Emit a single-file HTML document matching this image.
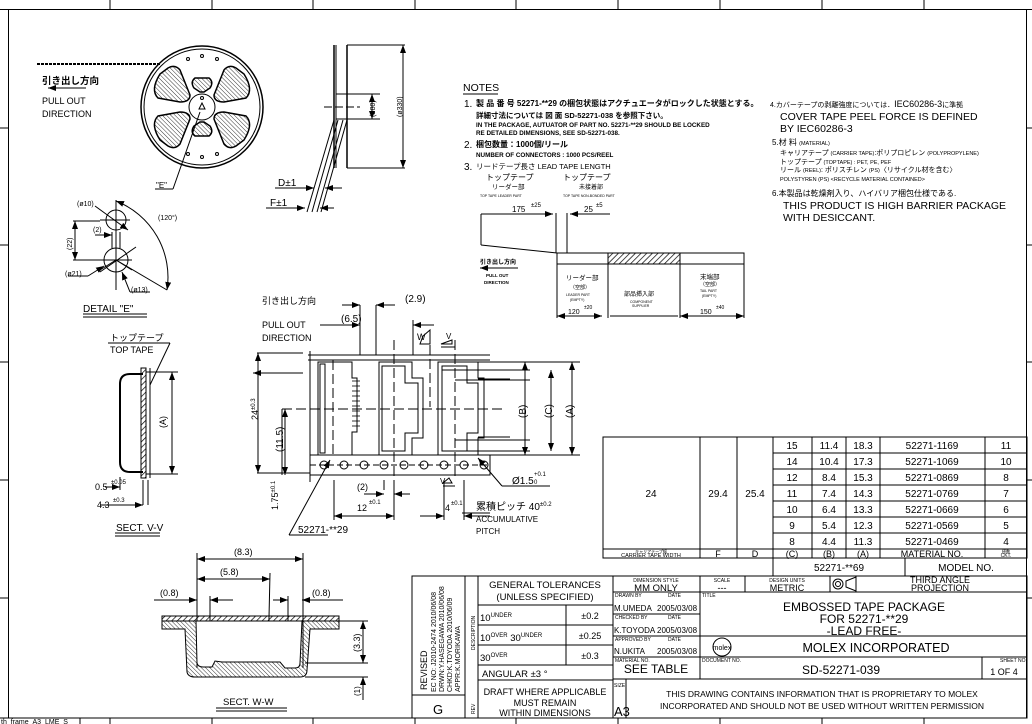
<!DOCTYPE html>
<html><head><meta charset="utf-8"><style>
html,body{margin:0;padding:0;background:#fff}
svg{display:block}
text{font-family:"Liberation Sans","Noto Sans CJK JP",sans-serif;fill:#000}
</style></head><body>
<svg width="1032" height="724" viewBox="0 0 1032 724" xmlns="http://www.w3.org/2000/svg">
<defs>
<pattern id="h" width="4" height="4" patternUnits="userSpaceOnUse" patternTransform="rotate(45)"><line x1="0" y1="0" x2="0" y2="4" stroke="#000" stroke-width="1.4"/></pattern>
<pattern id="h2" width="3" height="3" patternUnits="userSpaceOnUse" patternTransform="rotate(-45)"><line x1="0" y1="0" x2="0" y2="3" stroke="#000" stroke-width="0.8"/></pattern>
<marker id="a" markerWidth="8" markerHeight="6" refX="8" refY="3" orient="auto-start-reverse"><path d="M0,0L8,3L0,6z"/></marker>
</defs>
<g fill="none" stroke="#000" stroke-width="1">
<rect x="8.5" y="9.5" width="1018" height="708.5"/>
<line x1="0" y1="9.5" x2="1032" y2="9.5"/>
<line x1="110" y1="0" x2="110" y2="9"/><line x1="212" y1="0" x2="212" y2="9"/><line x1="313" y1="0" x2="313" y2="9"/><line x1="415" y1="0" x2="415" y2="9"/><line x1="516" y1="0" x2="516" y2="9"/><line x1="618" y1="0" x2="618" y2="9"/><line x1="720" y1="0" x2="720" y2="9"/><line x1="822" y1="0" x2="822" y2="9"/><line x1="924" y1="0" x2="924" y2="9"/>
<line x1="0" y1="128" x2="8" y2="128"/><line x1="0" y1="245" x2="8" y2="245"/><line x1="0" y1="362" x2="8" y2="362"/><line x1="0" y1="480" x2="8" y2="480"/><line x1="0" y1="598" x2="8" y2="598"/>
<line x1="1027" y1="128" x2="1032" y2="128"/><line x1="1027" y1="245" x2="1032" y2="245"/><line x1="1027" y1="362" x2="1032" y2="362"/><line x1="1027" y1="480" x2="1032" y2="480"/><line x1="1027" y1="598" x2="1032" y2="598"/>
<line x1="110" y1="718" x2="110" y2="724"/><line x1="212" y1="718" x2="212" y2="724"/><line x1="313" y1="718" x2="313" y2="724"/><line x1="415" y1="718" x2="415" y2="724"/><line x1="516" y1="718" x2="516" y2="724"/><line x1="618" y1="718" x2="618" y2="724"/><line x1="720" y1="718" x2="720" y2="724"/><line x1="822" y1="718" x2="822" y2="724"/><line x1="924" y1="718" x2="924" y2="724"/>

<!-- reel -->
<line x1="37" y1="64" x2="160" y2="64" stroke-dasharray="3 1" stroke-width="2"/>
<circle cx="202" cy="107" r="61" stroke-width="1.5"/>
<circle cx="202" cy="107" r="58"/>
<circle cx="202" cy="107" r="13"/>
<g fill="url(#h2)" stroke-width="1.5">
<path d="M158,98 Q150,90 160,74 L168,68 Q175,64 180,70 L190,95 Q190,102 180,102 Z"/>
<path d="M246,98 Q254,90 244,74 L236,68 Q229,64 224,70 L214,95 Q214,102 224,102 Z"/>
<path d="M158,116 Q150,124 160,140 L168,146 Q175,150 180,144 L190,119 Q190,112 180,112 Z"/>
<path d="M246,116 Q254,124 244,140 L236,146 Q229,150 224,144 L214,119 Q214,112 224,112 Z"/>
<path d="M195,78 L209,78 Q214,82 210,88 L204,92 L200,92 L194,88 Q190,82 195,78Z"/>
<path d="M195,136 L209,136 Q214,132 210,126 L204,122 L200,122 L194,126 Q190,132 195,136Z"/>
</g>
<circle cx="188" cy="59" r="1.5"/><circle cx="202" cy="56" r="1.5"/><circle cx="217" cy="59" r="1.5"/>
<circle cx="188" cy="154" r="1.5"/><circle cx="202" cy="157" r="1.5"/><circle cx="217" cy="154" r="1.5"/>
<circle cx="202" cy="98" r="1.5"/>
<path d="M199,109 L202,103 L205,109 Z"/>
<line x1="173" y1="189" x2="200" y2="112"/><line x1="155" y1="189" x2="173" y2="189"/>
<line x1="48" y1="88" x2="86" y2="88" marker-start="url(#a)"/>

<!-- reel side view -->
<line x1="334" y1="45" x2="334" y2="168" stroke-width="1.5"/><line x1="347" y1="45" x2="347" y2="168" stroke-width="1.5"/>
<line x1="336" y1="45" x2="336" y2="168"/>
<line x1="347" y1="45" x2="405" y2="45"/><line x1="347" y1="168" x2="405" y2="168"/>
<line x1="336" y1="94" x2="380" y2="94"/><line x1="336" y1="119" x2="380" y2="119"/>
<line x1="324" y1="107" x2="360" y2="107" stroke-dasharray="8 3"/>
<line x1="372" y1="94" x2="372" y2="119" marker-start="url(#a)" marker-end="url(#a)"/>
<line x1="403" y1="45" x2="403" y2="168" marker-start="url(#a)" marker-end="url(#a)"/>
<line x1="334" y1="120" x2="307" y2="212"/><line x1="338" y1="120" x2="312" y2="212"/>
<line x1="347" y1="120" x2="321" y2="212"/><line x1="343" y1="120" x2="317" y2="212"/>
<line x1="275" y1="188" x2="314" y2="188" marker-end="url(#a)"/><line x1="342" y1="188" x2="325" y2="188" marker-end="url(#a)"/><line x1="325" y1="188" x2="342" y2="188"/>
<line x1="266" y1="208" x2="305" y2="208" marker-end="url(#a)"/><line x1="334" y1="208" x2="320" y2="208" marker-end="url(#a)"/>

<!-- detail E -->
<circle cx="116" cy="220" r="10"/>
<circle cx="116" cy="260" r="12"/>
<line x1="116" y1="200" x2="116" y2="290"/>
<line x1="100" y1="220" x2="130" y2="220"/><line x1="90" y1="260" x2="132" y2="260"/>
<line x1="112" y1="232" x2="112" y2="248"/><line x1="120" y1="232" x2="120" y2="248"/>
<line x1="116" y1="260" x2="100" y2="270"/><line x1="116" y1="260" x2="132" y2="270"/>
<line x1="73" y1="221" x2="100" y2="221"/><line x1="73" y1="260" x2="100" y2="260"/>
<line x1="75" y1="221" x2="75" y2="260" marker-start="url(#a)" marker-end="url(#a)"/>
<path d="M116,201 A82,82 0 0 1 167,290" marker-start="url(#a)" marker-end="url(#a)"/>
<line x1="116" y1="260" x2="167" y2="290"/>
<line x1="95" y1="206" x2="128" y2="230" marker-end="url(#a)"/>
<line x1="95" y1="235" x2="112" y2="235" marker-end="url(#a)"/>
<line x1="136" y1="247" x2="100" y2="272"/>
<line x1="68" y1="276" x2="88" y2="276"/><line x1="88" y1="276" x2="104" y2="266" marker-end="url(#a)"/>
<line x1="130" y1="292" x2="150" y2="292"/><line x1="130" y1="292" x2="122" y2="272" marker-end="url(#a)"/>
<line x1="83" y1="314" x2="147" y2="314"/><line x1="83" y1="317" x2="147" y2="317"/>

<!-- top tape section V-V -->
<line x1="108" y1="343" x2="170" y2="343"/><line x1="170" y1="343" x2="150" y2="385"/>
<path d="M143,374 L130,374 Q120,374 120,384 L120,462 Q120,472 130,472 L143,472" stroke-width="2"/>
<path d="M146,372 L146,474 M150,368 L150,478 M146,372 L150,372 M146,474 L150,474"/>
<rect x="141" y="368" width="5" height="110" fill="url(#h)"/>
<line x1="150" y1="372" x2="178" y2="372"/><line x1="150" y1="474" x2="178" y2="474"/>
<line x1="172" y1="372" x2="172" y2="474" marker-start="url(#a)" marker-end="url(#a)"/>
<line x1="120" y1="477" x2="120" y2="490"/><line x1="148" y1="480" x2="148" y2="505"/><line x1="143" y1="480" x2="143" y2="505"/>
<line x1="105" y1="487" x2="120" y2="487" marker-end="url(#a)"/>
<line x1="100" y1="505" x2="143" y2="505" marker-end="url(#a)"/>
<line x1="115" y1="533" x2="160" y2="533"/><line x1="115" y1="536" x2="160" y2="536"/>

<!-- main tape view -->
<line x1="308" y1="355" x2="490" y2="355"/><line x1="308" y1="360" x2="490" y2="360"/>
<line x1="310" y1="351" x2="310" y2="482"/>
<line x1="257" y1="353" x2="303" y2="353"/><line x1="257" y1="473" x2="310" y2="473"/>
<line x1="258" y1="353" x2="258" y2="473" marker-start="url(#a)" marker-end="url(#a)"/>
<rect x="310" y="455" width="180" height="20"/>
<g fill="#fff">
<circle cx="324" cy="465" r="4"/><circle cx="344" cy="465" r="4"/><circle cx="364" cy="465" r="4"/><circle cx="384" cy="465" r="4"/><circle cx="404" cy="465" r="4"/><circle cx="424" cy="465" r="4"/><circle cx="444" cy="465" r="4"/><circle cx="464" cy="465" r="4"/><circle cx="484" cy="465" r="4"/>
</g>
<line x1="310" y1="465" x2="490" y2="465" stroke-dasharray="6 3"/>
<path d="M318,362 L352,362 L352,378 L357,378 L357,432 L352,432 L352,455 L318,455 Z"/>
<path d="M320,364 L325,364 L325,453 L320,453Z"/>
<g stroke-width="0.8"><line x1="352" y1="381" x2="360" y2="381"/><line x1="352" y1="386" x2="360" y2="386"/><line x1="352" y1="391" x2="360" y2="391"/><line x1="352" y1="396" x2="360" y2="396"/><line x1="352" y1="401" x2="360" y2="401"/><line x1="352" y1="406" x2="360" y2="406"/><line x1="352" y1="411" x2="360" y2="411"/><line x1="352" y1="416" x2="360" y2="416"/><line x1="352" y1="421" x2="360" y2="421"/><line x1="352" y1="426" x2="360" y2="426"/></g>
<path d="M379,362 L412,362 L412,378 L423,378 L423,438 L412,438 L412,455 L379,455 Z"/>
<path d="M382,366 L405,366 L405,383 L418,383 L418,433 L405,433 L405,451 L382,451 Z"/>
<path d="M438,362 L478,362 L478,378 L484,378 L484,438 L478,438 L478,455 L438,455 Z"/>
<path d="M442,366 L467,366 L467,383 L478,383 L478,433 L467,433 L467,451 L442,451 Z"/>
<line x1="282" y1="409" x2="505" y2="409" stroke-dasharray="10 4"/>
<line x1="394" y1="340" x2="394" y2="480" stroke-dasharray="10 4"/>
<line x1="455" y1="340" x2="455" y2="480" stroke-dasharray="10 4"/>
<line x1="333" y1="360" x2="333" y2="455" stroke-dasharray="10 4"/>
<line x1="430" y1="345" x2="430" y2="407" stroke-dasharray="10 4"/>
<line x1="442" y1="370" x2="530" y2="370"/><line x1="448" y1="451" x2="530" y2="451"/>
<line x1="478" y1="379" x2="510" y2="379"/><line x1="478" y1="437" x2="510" y2="437"/>
<line x1="455" y1="380" x2="530" y2="380"/><line x1="455" y1="440" x2="530" y2="440"/>
<line x1="525" y1="362" x2="525" y2="455" marker-start="url(#a)" marker-end="url(#a)"/>
<line x1="551" y1="370" x2="551" y2="451" marker-start="url(#a)" marker-end="url(#a)"/>
<line x1="572" y1="362" x2="572" y2="455" marker-start="url(#a)" marker-end="url(#a)"/>
<line x1="478" y1="362" x2="580" y2="362"/><line x1="478" y1="455" x2="580" y2="455"/>
<line x1="282" y1="409" x2="282" y2="475"/>
<line x1="285" y1="409" x2="285" y2="475" marker-start="url(#a)" marker-end="url(#a)"/>
<line x1="360" y1="305" x2="360" y2="355"/><line x1="376" y1="305" x2="376" y2="355"/><line x1="413" y1="320" x2="413" y2="355"/>
<line x1="342" y1="305" x2="360" y2="305" marker-end="url(#a)"/><line x1="395" y1="305" x2="376" y2="305" marker-end="url(#a)"/><line x1="376" y1="305" x2="395" y2="305"/>
<line x1="320" y1="325" x2="360" y2="325" marker-end="url(#a)"/>
<line x1="434" y1="325" x2="413" y2="325" marker-end="url(#a)"/>
<path d="M423,336 L430,330 L430,344 L420,344 Z"/><path d="M441,344 L452,340 L452,344 Z M441,347 L455,347"/>
<line x1="334" y1="480" x2="334" y2="520"/><line x1="394" y1="480" x2="394" y2="520"/><line x1="384" y1="480" x2="384" y2="490"/>
<line x1="334" y1="516" x2="394" y2="516" marker-start="url(#a)" marker-end="url(#a)"/>
<line x1="364" y1="494" x2="384" y2="494" marker-end="url(#a)"/><line x1="410" y1="494" x2="394" y2="494" marker-end="url(#a)"/>
<line x1="444" y1="480" x2="444" y2="520"/><line x1="464" y1="480" x2="464" y2="520"/>
<line x1="420" y1="516" x2="444" y2="516" marker-end="url(#a)"/><line x1="490" y1="516" x2="464" y2="516" marker-end="url(#a)"/>
<line x1="462" y1="513" x2="490" y2="513"/>
<line x1="289" y1="535" x2="328" y2="535"/><line x1="289" y1="535" x2="330" y2="460" marker-end="url(#a)"/>
<line x1="502" y1="486" x2="550" y2="486"/><line x1="502" y1="486" x2="478" y2="458" marker-end="url(#a)"/>
<line x1="253" y1="373" x2="303" y2="373" marker-start="url(#a)"/>
<path d="M443,483 L452,483 L449,478 Z M443,486 L455,486"/>

<!-- section W-W -->
<line x1="197" y1="553" x2="197" y2="668"/><line x1="303" y1="553" x2="303" y2="668"/>
<line x1="210" y1="596" x2="210" y2="668"/><line x1="288" y1="596" x2="288" y2="668"/>
<line x1="270" y1="573" x2="268" y2="662"/>
<line x1="197" y1="559" x2="303" y2="559" marker-start="url(#a)" marker-end="url(#a)"/>
<line x1="197" y1="579" x2="270" y2="579" marker-start="url(#a)" marker-end="url(#a)"/>
<line x1="154" y1="600" x2="197" y2="600" marker-end="url(#a)"/><line x1="233" y1="600" x2="210" y2="600" marker-end="url(#a)"/>
<line x1="273" y1="600" x2="288" y2="600" marker-end="url(#a)"/><line x1="343" y1="600" x2="302" y2="600" marker-end="url(#a)"/>
<rect x="162" y="616" width="177" height="5" fill="url(#h)"/>
<path d="M162,621 L162,629 L185,629 L187,672 Q188,677 195,677 L300,677 Q307,677 307,670 L310,629 L339,629 L339,621 Z" fill="url(#h2)"/>
<path d="M196,621 L197,663 Q198,667 203,667 L212,667 L215,661 L222,662 L280,662 L285,668 L295,668 Q300,668 300,663 L302,621 Z" fill="#fff"/>
<line x1="305" y1="621" x2="368" y2="621"/><line x1="305" y1="663" x2="368" y2="663"/><line x1="305" y1="677" x2="368" y2="677"/>
<line x1="363" y1="621" x2="363" y2="663" marker-start="url(#a)" marker-end="url(#a)"/>
<line x1="363" y1="700" x2="363" y2="677" marker-end="url(#a)"/>
<line x1="216" y1="708" x2="287" y2="708"/><line x1="216" y1="711" x2="287" y2="711"/>

<!-- lead tape diagram -->
<rect x="557" y="253" width="187" height="11"/>
<rect x="608" y="253" width="72" height="11" fill="url(#h)"/>
<line x1="557" y1="264" x2="557" y2="318"/><line x1="608" y1="264" x2="608" y2="318"/><line x1="680" y1="264" x2="680" y2="318"/><line x1="744" y1="264" x2="744" y2="318"/>
<line x1="557" y1="316" x2="602" y2="316" marker-start="url(#a)" marker-end="url(#a)"/>
<line x1="680" y1="316" x2="744" y2="316" marker-start="url(#a)" marker-end="url(#a)"/>
<line x1="610" y1="316" x2="678" y2="316"/>
<line x1="481" y1="214" x2="481" y2="245"/><line x1="481" y1="245" x2="557" y2="253"/>
<line x1="556" y1="213" x2="556" y2="253"/><line x1="567" y1="213" x2="567" y2="253"/>
<line x1="481" y1="214" x2="553" y2="214" marker-end="url(#a)"/>
<line x1="570" y1="214" x2="610" y2="214" marker-start="url(#a)"/>
<line x1="480" y1="268" x2="518" y2="268" marker-start="url(#a)"/>

<!-- table -->
<rect x="603" y="437" width="424" height="121"/>
<line x1="700" y1="437" x2="700" y2="558"/><line x1="737" y1="437" x2="737" y2="558"/><line x1="773" y1="437" x2="773" y2="558"/><line x1="812" y1="437" x2="812" y2="558"/><line x1="846" y1="437" x2="846" y2="558"/><line x1="880" y1="437" x2="880" y2="558"/><line x1="985" y1="437" x2="985" y2="558"/>
<line x1="773" y1="453" x2="1027" y2="453"/><line x1="773" y1="469" x2="1027" y2="469"/><line x1="773" y1="485" x2="1027" y2="485"/><line x1="773" y1="501" x2="1027" y2="501"/><line x1="773" y1="517" x2="1027" y2="517"/><line x1="773" y1="533" x2="1027" y2="533"/>
<line x1="603" y1="549" x2="1027" y2="549"/>
<!-- title block -->
<line x1="773" y1="558" x2="773" y2="576"/><line x1="905" y1="558" x2="905" y2="576"/>
<rect x="412" y="576" width="615" height="142"/>
<line x1="465" y1="576" x2="465" y2="718"/><line x1="478" y1="576" x2="478" y2="718"/>
<line x1="412" y1="695" x2="465" y2="695"/>
<line x1="478" y1="605" x2="613" y2="605"/><line x1="478" y1="625" x2="613" y2="625"/><line x1="478" y1="645" x2="613" y2="645"/><line x1="478" y1="665" x2="613" y2="665"/><line x1="478" y1="680" x2="613" y2="680"/>
<line x1="566" y1="605" x2="566" y2="665"/>
<line x1="613" y1="576" x2="613" y2="718"/>
<line x1="613" y1="592" x2="700" y2="592"/><line x1="613" y1="614" x2="700" y2="614"/><line x1="613" y1="636" x2="700" y2="636"/><line x1="613" y1="657" x2="1027" y2="657"/><line x1="613" y1="679" x2="1027" y2="679"/>
<line x1="700" y1="576" x2="700" y2="679"/>
<line x1="745" y1="576" x2="745" y2="592"/><line x1="830" y1="576" x2="830" y2="592"/><line x1="700" y1="592" x2="1027" y2="592"/>
<line x1="700" y1="636" x2="1027" y2="636"/>
<line x1="982" y1="657" x2="982" y2="679"/>
<line x1="626" y1="679" x2="626" y2="718"/>
<circle cx="838" cy="584" r="5"/><circle cx="838" cy="584" r="2.5"/>
<path d="M846,581 L856,577 L856,591 L846,587 Z"/>
<circle cx="722" cy="647" r="9"/>
</g>

<!-- TEXT -->
<g font-size="8">
<text x="42" y="84" font-size="9.5" font-weight="bold">引き出し方向</text>
<text x="42" y="104" font-size="9">PULL OUT</text><text x="42" y="117" font-size="9">DIRECTION</text>
<text x="156" y="188" font-size="8">"E"</text>
<text x="375" y="117" font-size="7" transform="rotate(-90 375 117)">(ø80)</text>
<text x="402" y="117" font-size="7" transform="rotate(-90 402 117)">(ø330)</text>
<text x="278" y="186" font-size="10">D±1</text><text x="270" y="206" font-size="10">F±1</text>
<text x="77" y="206" font-size="7">(ø10)</text><text x="93" y="232" font-size="7">(2)</text>
<text x="158" y="220" font-size="7">(120°)</text>
<text x="72" y="250" font-size="7" transform="rotate(-90 72 250)">(22)</text>
<text x="65" y="276" font-size="7">(ø21)</text><text x="131" y="292" font-size="7">(ø13)</text>
<text x="83" y="312" font-size="10">DETAIL "E"</text>
<text x="110" y="341" font-size="9">トップテープ</text><text x="110" y="353" font-size="9">TOP TAPE</text>
<text x="166" y="428" font-size="9" transform="rotate(-90 166 428)">(A)</text>
<text x="95" y="490" font-size="9">0.5</text><text x="111" y="484" font-size="6">±0.05</text>
<text x="97" y="508" font-size="9">4.3</text><text x="113" y="502" font-size="6">±0.3</text>
<text x="116" y="531" font-size="10">SECT. V-V</text>
<text x="463" y="91" font-size="10.5">NOTES</text>
<line x1="463" y1="94" x2="498" y2="94" stroke="#000"/>
<text x="464" y="107" font-size="10">1.</text>
<text x="476" y="106" font-size="8" font-weight="bold">製 品 番 号  52271-**29 の梱包状態はアクチュエータがロックした状態とする。</text>
<text x="476" y="118" font-size="7.5" font-weight="bold">詳細寸法については 図 面  SD-52271-038 を参照下さい。</text>
<text x="476" y="127" font-size="6.3" font-weight="bold">IN THE PACKAGE, AUTUATOR OF PART NO. 52271-**29 SHOULD BE LOCKED</text>
<text x="476" y="135" font-size="6.3" font-weight="bold">RE DETAILED DIMENSIONS, SEE SD-52271-038.</text>
<text x="464" y="148" font-size="10">2.</text><text x="476" y="147" font-size="8" font-weight="bold">梱包数量：1000個/リール</text>
<text x="476" y="157" font-size="6.3" font-weight="bold">NUMBER OF CONNECTORS : 1000 PCS/REEL</text>
<text x="464" y="170" font-size="10">3.</text><text x="476" y="169" font-size="7.5">リードテープ長さ LEAD TAPE LENGTH</text>
<text x="486" y="180" font-size="8">トップテープ</text><text x="492" y="189" font-size="6.5">リーダー部</text>
<text x="480" y="197" font-size="3.5">TOP TAPE LEADER PART</text>
<text x="563" y="180" font-size="8">トップテープ</text><text x="579" y="189" font-size="6">未接着部</text>
<text x="563" y="197" font-size="3.5">TOP TAPE NON-BONDED PART</text>
<text x="512" y="212" font-size="8">175</text><text x="531" y="207" font-size="6">±25</text>
<text x="584" y="212" font-size="8">25</text><text x="596" y="207" font-size="6">±5</text>
<text x="480" y="264" font-size="6" font-weight="bold">引き出し方向</text>
<text x="486" y="277" font-size="4.5" font-weight="bold">PULL OUT</text><text x="484" y="284" font-size="4.5" font-weight="bold">DIRECTION</text>
<text x="566" y="280" font-size="6.5">リーダー部</text><text x="570" y="289" font-size="5">（空部）</text><text x="566" y="296" font-size="3.5">LEADER PART</text><text x="570" y="301" font-size="3.5">(EMPTY)</text>
<text x="568" y="314" font-size="7">120</text><text x="584" y="309" font-size="5">±20</text>
<text x="624" y="296" font-size="6">部品挿入部</text><text x="630" y="303" font-size="3.5">COMPONENT</text><text x="632" y="307" font-size="3.5">SUPPLIER</text>
<text x="700" y="279" font-size="6.5">末端部</text><text x="700" y="286" font-size="5">（空部）</text><text x="700" y="292" font-size="3.5">TAIL PART</text><text x="702" y="297" font-size="3.5">(EMPTY)</text>
<text x="700" y="314" font-size="7">150</text><text x="716" y="309" font-size="5">±40</text>
<text x="770" y="107" font-size="7">4.カバーテープの剥離強度については．<tspan font-size="9">IEC60286-3</tspan>に準拠</text>
<text x="780" y="120" font-size="10.5">COVER TAPE PEEL FORCE IS DEFINED</text>
<text x="780" y="132" font-size="10.5">BY IEC60286-3</text>
<text x="772" y="145" font-size="8">5.材 料 <tspan font-size="5.5">(MATERIAL)</tspan></text>
<text x="780" y="155" font-size="7">キャリアテープ <tspan font-size="5.5">(CARRIER TAPE)</tspan>:ポリプロピレン <tspan font-size="5.5">(POLYPROPYLENE)</tspan></text>
<text x="780" y="164" font-size="7">トップテープ <tspan font-size="5.5">(TOPTAPE) : PET, PE, PEF</tspan></text>
<text x="780" y="172" font-size="7">リール <tspan font-size="5.5">(REEL)</tspan>: ポリスチレン <tspan font-size="5.5">(PS)</tspan>〈リサイクル材を含む〉</text>
<text x="780" y="181" font-size="5.5">POLYSTYREN (PS) &lt;RECYCLE MATERIAL CONTAINED&gt;</text>
<text x="772" y="196" font-size="8">6.本製品は乾燥剤入り、ハイバリア梱包仕様である.</text>
<text x="783" y="209" font-size="10.5">THIS PRODUCT IS HIGH BARRIER PACKAGE</text>
<text x="783" y="221" font-size="10.5">WITH DESICCANT.</text>
<text x="262" y="304" font-size="9">引き出し方向</text>
<text x="262" y="328" font-size="9">PULL OUT</text><text x="262" y="341" font-size="9">DIRECTION</text>
<text x="405" y="302" font-size="10">(2.9)</text><text x="341" y="322" font-size="10">(6.5)</text>
<text x="417" y="340" font-size="9">W</text><text x="446" y="339" font-size="8">V</text>
<text x="258" y="420" font-size="9" transform="rotate(-90 258 420)">24<tspan font-size="6" dy="-3">±0.3</tspan></text>
<text x="283" y="452" font-size="10" transform="rotate(-90 283 452)">(11.5)</text>
<text x="526" y="418" font-size="10" transform="rotate(-90 526 418)">(B)</text>
<text x="552" y="418" font-size="10" transform="rotate(-90 552 418)">(C)</text>
<text x="573" y="418" font-size="10" transform="rotate(-90 573 418)">(A)</text>
<text x="512" y="484" font-size="10">Ø1.5</text><text x="534" y="476" font-size="6">+0.1</text><text x="534" y="484" font-size="6">0</text>
<text x="440" y="484" font-size="8">V</text>
<text x="357" y="490" font-size="9">(2)</text><text x="357" y="511" font-size="9">12</text><text x="369" y="504" font-size="6">±0.1</text>
<text x="445" y="511" font-size="9">4</text><text x="451" y="505" font-size="6">±0.1</text>
<text x="476" y="510" font-size="10">累積ピッチ 40<tspan font-size="6" dy="-4">±0.2</tspan></text>
<text x="476" y="522" font-size="8">ACCUMULATIVE</text><text x="476" y="534" font-size="8">PITCH</text>
<text x="278" y="510" font-size="9" transform="rotate(-90 278 510)">1.75<tspan font-size="6" dy="-3">±0.1</tspan></text>
<text x="298" y="533" font-size="10">52271-**29</text>
<text x="234" y="555" font-size="9">(8.3)</text><text x="220" y="575" font-size="9">(5.8)</text>
<text x="160" y="596" font-size="9">(0.8)</text><text x="312" y="596" font-size="9">(0.8)</text>
<text x="360" y="652" font-size="9" transform="rotate(-90 360 652)">(3.3)</text>
<text x="360" y="696" font-size="8" transform="rotate(-90 360 696)">(1)</text>
<text x="223" y="705" font-size="9.5">SECT. W-W</text>
</g>
<g font-size="10" text-anchor="middle">
<text x="651" y="497">24</text><text x="718" y="497">29.4</text><text x="755" y="497">25.4</text>
<text x="792" y="449">15</text><text x="829" y="449">11.4</text><text x="863" y="449">18.3</text><text x="932" y="449">52271-1169</text><text x="1006" y="449">11</text>
<text x="792" y="465">14</text><text x="829" y="465">10.4</text><text x="863" y="465">17.3</text><text x="932" y="465">52271-1069</text><text x="1006" y="465">10</text>
<text x="792" y="481">12</text><text x="829" y="481">8.4</text><text x="863" y="481">15.3</text><text x="932" y="481">52271-0869</text><text x="1006" y="481">8</text>
<text x="792" y="497">11</text><text x="829" y="497">7.4</text><text x="863" y="497">14.3</text><text x="932" y="497">52271-0769</text><text x="1006" y="497">7</text>
<text x="792" y="513">10</text><text x="829" y="513">6.4</text><text x="863" y="513">13.3</text><text x="932" y="513">52271-0669</text><text x="1006" y="513">6</text>
<text x="792" y="529">9</text><text x="829" y="529">5.4</text><text x="863" y="529">12.3</text><text x="932" y="529">52271-0569</text><text x="1006" y="529">5</text>
<text x="792" y="545">8</text><text x="829" y="545">4.4</text><text x="863" y="545">11.3</text><text x="932" y="545">52271-0469</text><text x="1006" y="545">4</text>
<text x="651" y="553" font-size="4">キャリアテープ幅</text><text x="651" y="557" font-size="5.5">CARRIER TAPE WIDTH</text>
<text x="718" y="557" font-size="9">F</text><text x="755" y="557" font-size="9">D</text><text x="792" y="557" font-size="9">(C)</text><text x="829" y="557" font-size="9">(B)</text><text x="863" y="557" font-size="9">(A)</text><text x="932" y="557" font-size="9">MATERIAL NO.</text><text x="1006" y="553" font-size="4">極数</text><text x="1006" y="557" font-size="5">CKT.</text>
<text x="839" y="571" font-size="10">52271-**69</text><text x="966" y="571" font-size="10">MODEL NO.</text>
<text x="545" y="588" font-size="9.5">GENERAL TOLERANCES</text><text x="545" y="600" font-size="9.5">(UNLESS SPECIFIED)</text>
<text x="656" y="582" font-size="5">DIMENSION STYLE</text><text x="656" y="591" font-size="9.5">MM ONLY</text>
<text x="722" y="582" font-size="5">SCALE</text><text x="722" y="591" font-size="9">---</text>
<text x="787" y="582" font-size="5">DESIGN UNITS</text><text x="787" y="591" font-size="9">METRIC</text>
<text x="590" y="619" font-size="9">±0.2</text><text x="590" y="639" font-size="9">±0.25</text><text x="590" y="659" font-size="9">±0.3</text>
<text x="545" y="695" font-size="9">DRAFT WHERE APPLICABLE</text><text x="545" y="706" font-size="9">MUST REMAIN</text><text x="545" y="716" font-size="9">WITHIN DIMENSIONS</text>
<text x="864" y="611" font-size="12">EMBOSSED TAPE PACKAGE</text><text x="864" y="623" font-size="12">FOR 52271-**29</text><text x="864" y="635" font-size="12">-LEAD FREE-</text>
<text x="876" y="652" font-size="12.5">MOLEX INCORPORATED</text>
<text x="656" y="673" font-size="12">SEE TABLE</text>
<text x="841" y="674" font-size="12">SD-52271-039</text>
<text x="1004" y="675" font-size="9">1 OF 4</text>
<text x="822" y="697" font-size="8.5">THIS DRAWING CONTAINS INFORMATION THAT IS PROPRIETARY TO MOLEX</text>
<text x="822" y="709" font-size="8.5">INCORPORATED AND SHOULD NOT BE USED WITHOUT WRITTEN PERMISSION</text>
<text x="438" y="714" font-size="13">G</text>
<text x="722" y="650" font-size="7">molex</text>
<text x="940" y="583" font-size="9">THIRD ANGLE</text><text x="940" y="591" font-size="9">PROJECTION</text>
</g>
<g font-size="9.5">
<text x="480" y="621">10<tspan font-size="6" dy="-4">UNDER</tspan></text>
<text x="480" y="641">10<tspan font-size="6" dy="-4">OVER</tspan><tspan dy="4"> 30</tspan><tspan font-size="6" dy="-4">UNDER</tspan></text>
<text x="480" y="661">30<tspan font-size="6" dy="-4">OVER</tspan></text>
<text x="482" y="677">ANGULAR     ±3     °</text>
<text x="614" y="611" font-size="8">M.UMEDA</text><text x="657" y="611" font-size="8">2005/03/08</text>
<text x="614" y="633" font-size="8">K.TOYODA</text><text x="657" y="633" font-size="8">2005/03/08</text>
<text x="614" y="654" font-size="8">N.UKITA</text><text x="657" y="654" font-size="8">2005/03/08</text>
<text x="615" y="597" font-size="5">DRAWN BY</text><text x="668" y="597" font-size="5">DATE</text>
<text x="615" y="619" font-size="5">CHECKED BY</text><text x="668" y="619" font-size="5">DATE</text>
<text x="615" y="641" font-size="5">APPROVED BY</text><text x="668" y="641" font-size="5">DATE</text>
<text x="615" y="662" font-size="5">MATERIAL NO.</text><text x="702" y="662" font-size="5">DOCUMENT NO.</text><text x="1000" y="662" font-size="5">SHEET NO.</text>
<text x="702" y="597" font-size="5">TITLE</text>
<text x="614" y="687" font-size="5">SIZE</text><text x="614" y="716" font-size="13">A3</text>
<text x="427" y="690" font-size="9" transform="rotate(-90 427 690)">REVISED</text>
<text x="436" y="692" font-size="7" transform="rotate(-90 436 692)">EC NO: J2010-2474   2010/06/08</text>
<text x="444" y="692" font-size="7" transform="rotate(-90 444 692)">DRWN:Y.HASEGAWA  2010/06/08</text>
<text x="452" y="692" font-size="7" transform="rotate(-90 452 692)">CHKD:K.TOYODA    2010/06/09</text>
<text x="460" y="692" font-size="7" transform="rotate(-90 460 692)">APPR:K.MORIKAWA</text>
<text x="475" y="650" font-size="5" transform="rotate(-90 475 650)">DESCRIPTION</text>
<text x="475" y="714" font-size="5" transform="rotate(-90 475 714)">REV</text>
<text x="1" y="724" font-size="7">th_frame_A3_LME_S</text>
</g>
<line x1="0" y1="718" x2="80" y2="718" stroke="#000"/><line x1="80" y1="718" x2="80" y2="724" stroke="#000"/>
</svg>
</body></html>
